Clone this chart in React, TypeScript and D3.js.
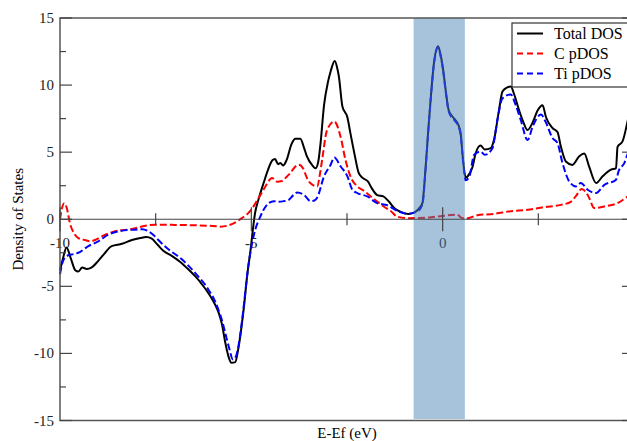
import React, { useEffect, useRef } from "react";
import * as d3 from "d3";

// DOS data, [E - Ef (eV), states]
const totalDos: [number, number][] = [
  [-10.0, -3.8], [-9.92, -2.9], [-9.83, -2.1], [-9.72, -2.9], [-9.6, -3.8],
  [-9.52, -3.9], [-9.42, -3.6], [-9.3, -3.7], [-9.18, -3.6], [-9.0, -3.1],
  [-8.85, -2.6], [-8.65, -2.0], [-8.38, -1.83], [-8.12, -1.55], [-7.9, -1.4],
  [-7.75, -1.33], [-7.6, -1.45], [-7.45, -1.9], [-7.3, -2.35], [-7.07, -2.75],
  [-6.85, -3.2], [-6.64, -3.75], [-6.45, -4.3], [-6.29, -4.85], [-6.1, -5.6],
  [-5.94, -6.4], [-5.85, -7.0], [-5.77, -7.8], [-5.68, -9.2], [-5.6, -10.2],
  [-5.52, -10.7], [-5.42, -10.65], [-5.35, -9.8], [-5.2, -6.7], [-5.1, -4.0],
  [-5.03, -2.5], [-4.9, 0.5], [-4.8, 1.6], [-4.68, 2.7], [-4.55, 3.8],
  [-4.45, 4.4], [-4.38, 4.5], [-4.3, 4.1], [-4.24, 4.2], [-4.17, 4.0],
  [-4.08, 4.4], [-3.95, 5.6], [-3.85, 6.0], [-3.72, 6.0], [-3.62, 5.3],
  [-3.55, 4.7], [-3.4, 4.0], [-3.32, 3.8], [-3.25, 4.3], [-3.19, 5.7],
  [-3.1, 8.5], [-3.0, 10.2], [-2.93, 11.0], [-2.82, 11.8], [-2.75, 11.2],
  [-2.71, 10.6], [-2.62, 8.4], [-2.49, 7.6], [-2.41, 6.4], [-2.3, 4.8],
  [-2.2, 3.5], [-2.1, 3.1], [-1.95, 2.8], [-1.85, 2.3], [-1.71, 1.8],
  [-1.55, 1.7], [-1.4, 1.3], [-1.25, 0.8], [-1.1, 0.55], [-0.9, 0.4],
  [-0.75, 0.5], [-0.62, 0.8], [-0.53, 1.2], [-0.45, 3.7], [-0.38, 6.5],
  [-0.31, 9.1], [-0.23, 11.6], [-0.12, 12.9], [-0.05, 12.2], [0.01, 11.2],
  [0.08, 9.6], [0.16, 8.1], [0.3, 7.5], [0.4, 7.1], [0.47, 6.4],
  [0.53, 4.5], [0.6, 3.1], [0.7, 3.4], [0.78, 3.9], [0.86, 4.9],
  [0.99, 5.5], [1.1, 5.2], [1.26, 5.3], [1.34, 5.9], [1.47, 8.1],
  [1.56, 9.5], [1.67, 9.8], [1.78, 9.9], [1.87, 9.3], [2.0, 8.1],
  [2.1, 7.3], [2.22, 6.65], [2.35, 7.2], [2.48, 8.1], [2.61, 8.5],
  [2.7, 7.6], [2.87, 6.8], [3.0, 6.5], [3.09, 5.4], [3.22, 4.3],
  [3.39, 4.05], [3.57, 4.7], [3.7, 4.9], [3.83, 3.9], [4.01, 2.7],
  [4.18, 3.2], [4.4, 3.7], [4.53, 3.8], [4.57, 5.4], [4.7, 5.8],
  [4.84, 7.4], [5.0, 9.5],
];

const cDos: [number, number][] = [
  [-10.0, 0.0], [-9.95, 0.8], [-9.89, 1.2], [-9.82, 0.8], [-9.74, -0.3],
  [-9.62, -1.1], [-9.52, -1.4], [-9.35, -1.55], [-9.21, -1.65], [-9.05, -1.5],
  [-8.91, -1.28], [-8.56, -0.9], [-8.12, -0.73], [-7.77, -0.48], [-7.51, -0.41],
  [-7.0, -0.42], [-6.5, -0.45], [-6.0, -0.5], [-5.8, -0.55], [-5.59, -0.45],
  [-5.4, -0.2], [-5.24, 0.1], [-5.1, 0.4], [-4.98, 0.8], [-4.85, 1.4],
  [-4.72, 2.0], [-4.6, 2.6], [-4.46, 3.07], [-4.33, 2.8], [-4.2, 2.85],
  [-4.1, 3.1], [-3.98, 3.45], [-3.86, 3.9], [-3.76, 4.06], [-3.65, 3.8],
  [-3.55, 3.1], [-3.46, 2.7], [-3.28, 2.44], [-3.2, 3.5], [-3.15, 4.43],
  [-3.02, 6.66], [-2.83, 7.28], [-2.67, 6.17], [-2.54, 4.43], [-2.41, 3.19],
  [-2.23, 2.44], [-2.05, 2.1], [-1.88, 1.7], [-1.7, 1.3], [-1.54, 0.95],
  [-1.35, 0.6], [-1.19, 0.2], [-0.9, 0.08], [-0.6, 0.1], [-0.3, 0.15],
  [0.0, 0.25], [0.38, 0.33], [0.5, 0.1], [0.6, 0.05], [0.91, 0.3],
  [1.34, 0.4], [1.78, 0.6], [2.22, 0.7], [2.65, 0.9], [3.09, 1.07],
  [3.35, 1.3], [3.5, 1.8], [3.63, 2.25], [3.75, 2.0], [3.83, 1.58],
  [3.96, 0.83], [4.22, 0.95], [4.57, 1.2], [4.84, 1.7], [5.0, 2.0],
];

const tiDos: [number, number][] = [
  [-10.0, -4.1], [-9.92, -3.1], [-9.8, -2.7], [-9.65, -2.6], [-9.52, -2.5],
  [-9.26, -2.0], [-9.0, -1.65], [-8.74, -1.15], [-8.47, -0.9], [-8.12, -0.78],
  [-7.85, -0.75], [-7.69, -0.9], [-7.55, -1.2], [-7.43, -1.55], [-7.16, -2.25],
  [-6.81, -3.0], [-6.47, -4.0], [-6.12, -5.25], [-5.95, -6.1], [-5.86, -6.75],
  [-5.76, -7.6], [-5.68, -8.5], [-5.58, -9.6], [-5.48, -10.45], [-5.4, -10.2],
  [-5.3, -8.8], [-5.24, -7.5], [-5.07, -3.3], [-4.9, -0.8], [-4.78, 0.1],
  [-4.68, 0.7], [-4.55, 1.2], [-4.41, 1.35], [-4.3, 1.3], [-4.15, 1.35],
  [-4.02, 1.45], [-3.9, 1.8], [-3.8, 2.0], [-3.62, 1.8], [-3.45, 1.35],
  [-3.35, 1.4], [-3.28, 1.6], [-3.1, 3.2], [-2.93, 4.05], [-2.83, 4.6],
  [-2.67, 3.95], [-2.49, 3.2], [-2.36, 2.2], [-2.23, 1.95], [-1.97, 1.7],
  [-1.71, 1.2], [-1.45, 1.05], [-1.19, 0.63], [-0.92, 0.41], [-0.66, 0.58],
  [-0.53, 1.08], [-0.45, 3.6], [-0.38, 6.4], [-0.31, 9.0], [-0.23, 11.5],
  [-0.12, 12.8], [-0.05, 12.1], [0.01, 11.1], [0.08, 9.5], [0.16, 8.0],
  [0.3, 7.4], [0.4, 7.0], [0.47, 6.3], [0.53, 4.4], [0.6, 2.9],
  [0.7, 3.2], [0.82, 4.8], [0.99, 5.05], [1.1, 4.8], [1.3, 5.3],
  [1.43, 7.4], [1.56, 9.0], [1.78, 9.3], [1.91, 8.5], [2.04, 7.4],
  [2.22, 5.9], [2.35, 6.9], [2.57, 7.8], [2.7, 7.2], [2.87, 6.05],
  [3.0, 5.67], [3.13, 4.2], [3.31, 2.8], [3.48, 2.45], [3.61, 2.7],
  [3.79, 2.2], [4.01, 1.95], [4.22, 2.55], [4.53, 2.95], [4.6, 3.6],
  [4.75, 4.2], [4.84, 4.9], [5.0, 5.6],
];

const gapBand = [-0.76, 0.58];
const xMajorTicks = [-10, -5, 0, 5];
const xTickLabels = [-10, -5, 0]; // the "5" label falls outside the picture
const xMinorTicks = [-7.5, -2.5, 2.5];
const yMajorTicks = [-15, -10, -5, 0, 5, 10, 15];
const yMinorTicks = [-12.5, -7.5, -2.5, 2.5, 7.5, 12.5];

const series = [
  { name: "Total DOS", data: totalDos, color: "#000000", dash: null },
  { name: "C pDOS", data: cDos, color: "#ff0000", dash: "7,3" },
  { name: "Ti pDOS", data: tiDos, color: "#0000ff", dash: "7,3" },
];

const App = () => {
  const svgRef = useRef(null);
  const width = 627;
  const height = 441;
  const margin = { top: 18, right: -7, bottom: 20.5, left: 60 };
  const font = "Times New Roman, Liberation Serif, DejaVu Serif, serif";

  useEffect(() => {
    const svg = d3.select(svgRef.current);
    svg.selectAll("*").remove();

    const x = d3.scaleLinear().domain([-10, 5]).range([margin.left, width - margin.right]);
    const y = d3.scaleLinear().domain([-15, 15]).range([height - margin.bottom, margin.top]);
    const x0 = x(-10);
    const x1 = x(5);
    const y0 = y(0);

    // x tick labels sit below the zero line (under the highlight band)
    svg
      .append("g")
      .selectAll("text")
      .data(xTickLabels)
      .enter()
      .append("text")
      .attr("x", (d) => x(d))
      .attr("y", y0 + 29)
      .attr("text-anchor", "middle")
      .attr("fill", "#222")
      .text((d) => d);

    const line = d3
      .line<[number, number]>()
      .x((d) => x(d[0]))
      .y((d) => y(d[1]))
      .curve(d3.curveMonotoneX);

    svg
      .append("g")
      .selectAll("path")
      .data(series)
      .enter()
      .append("path")
      .attr("d", (d) => line(d.data))
      .attr("fill", "none")
      .attr("stroke", (d) => d.color)
      .attr("stroke-width", 2)
      .attr("stroke-dasharray", (d) => d.dash)
      .attr("stroke-linejoin", "round");

    // band gap highlight
    svg
      .append("rect")
      .attr("x", x(gapBand[0]))
      .attr("y", margin.top)
      .attr("width", x(gapBand[1]) - x(gapBand[0]))
      .attr("height", y(-15) - margin.top - 1.5)
      .attr("fill", "steelblue")
      .attr("opacity", 0.48);

    // frame
    svg
      .append("rect")
      .attr("x", x0)
      .attr("y", margin.top)
      .attr("width", x1 - x0)
      .attr("height", y(-15) - margin.top)
      .attr("fill", "none")
      .attr("stroke", "#555")
      .attr("stroke-width", 1.5);

    // zero axis with ticks crossing it
    const ax = svg.append("g").attr("stroke", "#444").attr("stroke-width", 1.2);
    ax.append("line").attr("x1", x0).attr("x2", x1).attr("y1", y0).attr("y2", y0);
    ax.selectAll(".maj")
      .data(xMajorTicks)
      .enter()
      .append("line")
      .attr("x1", (d) => x(d))
      .attr("x2", (d) => x(d))
      .attr("y1", y0 - 12)
      .attr("y2", y0 + 12);
    ax.selectAll(".min")
      .data(xMinorTicks)
      .enter()
      .append("line")
      .attr("x1", (d) => x(d))
      .attr("x2", (d) => x(d))
      .attr("y1", y0 - 6)
      .attr("y2", y0 + 6);

    // y ticks, inward on both sides
    const yt = svg.append("g").attr("stroke", "#444").attr("stroke-width", 1.2);
    [
      { ticks: yMajorTicks, len: 12 },
      { ticks: yMinorTicks, len: 6 },
    ].forEach(({ ticks, len }) => {
      yt.append("g")
        .selectAll("line")
        .data(ticks)
        .enter()
        .append("line")
        .attr("x1", x0)
        .attr("x2", x0 + len)
        .attr("y1", (d) => y(d))
        .attr("y2", (d) => y(d));
      yt.append("g")
        .selectAll("line")
        .data(ticks)
        .enter()
        .append("line")
        .attr("x1", x1)
        .attr("x2", x1 - len)
        .attr("y1", (d) => y(d))
        .attr("y2", (d) => y(d));
    });

    svg
      .append("g")
      .selectAll("text")
      .data(yMajorTicks)
      .enter()
      .append("text")
      .attr("x", x0 - 6)
      .attr("y", (d) => y(d) + 5)
      .attr("text-anchor", "end")
      .attr("fill", "#222")
      .text((d) => d);

    // axis titles
    svg
      .append("text")
      .attr("x", (x0 + x1) / 2)
      .attr("y", 438)
      .attr("text-anchor", "middle")
      .text("E-Ef (eV)");

    svg
      .append("text")
      .attr("transform", `translate(23,${(margin.top + y(-15)) / 2}) rotate(-90)`)
      .attr("text-anchor", "middle")
      .text("Density of States");

    // legend
    const legend = svg.append("g").attr("transform", "translate(512,23)");
    legend
      .append("rect")
      .attr("width", 130)
      .attr("height", 64)
      .attr("fill", "white")
      .attr("stroke", "#333")
      .attr("stroke-width", 1.2);
    const item = legend
      .selectAll(".item")
      .data(series)
      .enter()
      .append("g")
      .attr("transform", (d, i) => `translate(0,${10.5 + i * 20})`);
    item
      .append("line")
      .attr("x1", 5)
      .attr("x2", 31)
      .attr("stroke", (d) => d.color)
      .attr("stroke-width", 2)
      .attr("stroke-dasharray", (d) => (d.dash ? "6,4" : null));
    item
      .append("text")
      .attr("x", 42)
      .attr("y", 5.5)
      .attr("font-size", 16)
      .text((d) => d.name);
  }, []);

  return (
    <svg
      ref={svgRef}
      width={width}
      height={height}
      fontFamily={font}
      fontSize={15}
      style={{ position: "absolute", left: 0, top: 0, background: "white" }}
    ></svg>
  );
};

export default App;
